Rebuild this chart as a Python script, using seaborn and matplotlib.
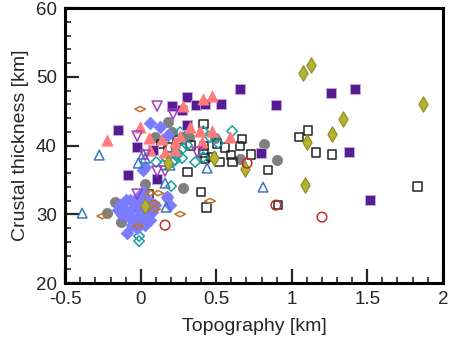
import numpy as np
import matplotlib
matplotlib.use("Agg")
import matplotlib.pyplot as plt
from matplotlib.path import Path
from matplotlib.ticker import MultipleLocator
import seaborn as sns

# ==========================
# data
# ==========================
purple_x = [0.657, 0.307, 0.208, 0.274, 0.366, 0.426, 0.532, -0.149, -0.024, 0.082,
            0.307, 0.796, 0.895, 1.259, 1.418, 1.378, 1.517, -0.083, 0.108]
purple_y = [48.2, 47.05, 45.75, 45.16, 45.9, 46.04, 46.04, 42.25, 39.78, 39.35,
            42.98, 38.9, 45.9, 47.6, 48.2, 39.05, 32.07, 35.7, 35.13]

salmon_x = [-0.222, -0.004, 0.056, 0.142, 0.228, 0.280, 0.413, 0.472, 0.327, 0.393,
            0.472, 0.591, 0.261, 0.228, 0.406, 0.062, 0.161]
salmon_y = [40.8, 42.69, 41.09, 40.95, 40.53, 45.75, 46.76, 47.2, 42.69, 42.1,
            42.1, 41.24, 41.38, 39.35, 40.5, 39.35, 39.05]

gray_x = [0.181, 0.208, 0.095, 0.320, 0.492, 0.816, 0.902, 0.657, 0.029, -0.169,
          -0.222, -0.130, 0.280, 0.175, 0.274]
gray_y = [43.42, 41.96, 41.24, 41.24, 41.09, 40.22, 37.89, 38.04, 34.4, 31.78,
          30.18, 28.87, 33.82, 32.5, 41.24]

blue_dia_x = [0.062, 0.128, 0.181, 0.029, 0.016, 0.175, 0.194, -0.090, 0.016, -0.004,
              -0.136, -0.103, -0.070, -0.037, -0.004, 0.029, 0.062, -0.083, -0.037, 0.009,
              -0.123, -0.057, 0.049, 0.095, -0.017, -0.097, 0.062, -0.004, -0.050, 0.029,
              -0.024, 0.075, -0.149, -0.070]
blue_dia_y = [43.27, 42.69, 41.53, 36.87, 36.44, 32.51, 31.35, 27.27, 33.24, 31.64,
              31.35, 30.62, 32.07, 31.35, 30.62, 29.89, 30.62, 29.89, 29.16, 28.87,
              29.89, 28.44, 32.07, 31.35, 32.51, 32.07, 29.16, 29.89, 30.91, 28.44,
              28.0, 30.33, 30.62, 29.45]

black_x = [0.413, 0.671, 0.657, 0.181, 0.135, 0.419, 0.558, 0.730, 0.598, 1.107,
           1.048, 1.160, 1.266, 0.505, 0.327, 0.413, 0.466, 0.519, 0.605, 0.843,
           0.307, 0.426, 0.241, 0.399, 0.433, 0.909, 1.835, 0.049]
black_y = [43.13, 40.95, 39.93, 39.78, 40.22, 39.93, 39.78, 38.76, 38.62, 42.25,
           41.24, 39.05, 38.76, 40.36, 40.07, 39.05, 38.33, 37.6, 37.6, 36.44,
           36.15, 38.18, 40.8, 33.24, 31.05, 31.35, 34.11, 32.95]

teal_x = [0.605, 0.413, 0.459, 0.512, 0.307, 0.228, 0.280, 0.360, 0.241, 0.274,
          0.228, 0.161, 0.148, 0.413, 0.201, -0.011, -0.011, 0.261, 0.208, 0.102]
teal_y = [42.11, 42.11, 41.24, 40.36, 40.07, 39.05, 39.64, 37.6, 38.62, 38.18,
          37.89, 38.33, 37.16, 38.33, 34.11, 26.84, 26.11, 41.96, 37.6, 37.6]

tri_x = [-0.388, -0.275, 0.016, -0.017, 0.194, 0.439, 0.810, 0.161, 0.168, 0.029]
tri_y = [30.18, 38.62, 38.76, 37.45, 37.16, 36.73, 33.96, 34.55, 31.05, 38.18]

magenta_x = [0.108, 0.214, -0.024, 0.029, 0.373, 0.108, 0.161, -0.024]
magenta_y = [45.75, 44.58, 41.38, 38.62, 39.05, 36.29, 36.29, 32.95]

orange_x = [-0.004, -0.255, -0.017, 0.115, 0.089, 0.261, 0.459, 0.095, 0.062]
orange_y = [45.31, 29.75, 28.29, 33.09, 31.64, 30.04, 31.93, 30.76, 33.09]

olive_x = [1.074, 1.127, 1.868, 1.339, 1.266, 1.101, 1.087, 0.485, 0.690, 0.181, 0.029]
olive_y = [50.55, 51.71, 46.04, 43.85, 41.67, 40.51, 34.25, 38.18, 36.58, 37.45, 31.2]

red_x = [0.161, 0.704, 0.895, 1.200]
red_y = [28.44, 37.45, 31.35, 29.6]

# flat diamond marker (wider than tall)
flat_dia = Path([(-1, 0), (0, 0.5), (1, 0), (0, -0.5), (-1, 0)],
                [Path.MOVETO, Path.LINETO, Path.LINETO, Path.LINETO, Path.CLOSEPOLY])

# ==========================
# plot
# ==========================
sns.set_style("ticks")
plt.rcParams["font.family"] = ["Liberation Sans", "DejaVu Sans"]

fig = plt.figure(figsize=(4.5, 3.5), dpi=100)
ax = fig.add_axes([0.145, 0.191, 0.839, 0.786])

# (x, y, marker, size, face, edge, lw)
groups = [
    (gray_x, gray_y, "o", 55, "#808080", "#808080", 0.5),
    (black_x, black_y, "s", 40, "none", "#222222", 1.1),
    (teal_x, teal_y, "D", 28, "none", "#1a9e9e", 1.1),
    (purple_x, purple_y, "s", 46, "#561c92", "#c9a8e8", 0.6),
    (salmon_x, salmon_y, "^", 66, "#ff7b7b", "#ff7b7b", 0.5),
    (blue_dia_x, blue_dia_y, "D", 42, "#7b7bff", "#7b7bff", 0.5),
    (tri_x, tri_y, "^", 48, "none", "#3a78bd", 1.1),
    (magenta_x, magenta_y, "v", 52, "none", "#a03cc0", 1.1),
    (orange_x, orange_y, flat_dia, 58, "none", "#c0732a", 1.1),
    (olive_x, olive_y, "d", 62, "#b3b332", "#8c8c1e", 0.8),
    (red_x, red_y, "o", 48, "none", "#c0302a", 1.1),
]

for gx, gy, m, s, fc, ec, lw in groups:
    sns.scatterplot(x=gx, y=gy, marker=m, s=s, facecolors=fc,
                    edgecolors=ec, linewidths=lw, ax=ax, zorder=3)

ax.set_xlim(-0.5, 2)
ax.set_ylim(20, 60)
ax.xaxis.set_major_locator(MultipleLocator(0.5))
ax.xaxis.set_minor_locator(MultipleLocator(0.1))
ax.yaxis.set_major_locator(MultipleLocator(10))
ax.yaxis.set_minor_locator(MultipleLocator(2))
ax.set_xticks([-0.5, 0, 0.5, 1, 1.5, 2])
ax.set_xticklabels(["-0.5", "0", "0.5", "1", "1.5", "2"])

ax.tick_params(which="major", direction="in", length=10, width=1.6,
               labelsize=13.5, pad=6)
ax.tick_params(which="minor", direction="in", length=4.5, width=1.2)
for sp in ax.spines.values():
    sp.set_linewidth(2.2)
    sp.set_color("black")

ax.set_xlabel("Topography [km]", fontsize=14, labelpad=7)
ax.set_ylabel("Crustal thickness [km]", fontsize=14, labelpad=5)

plt.savefig("out.png", dpi=100)
